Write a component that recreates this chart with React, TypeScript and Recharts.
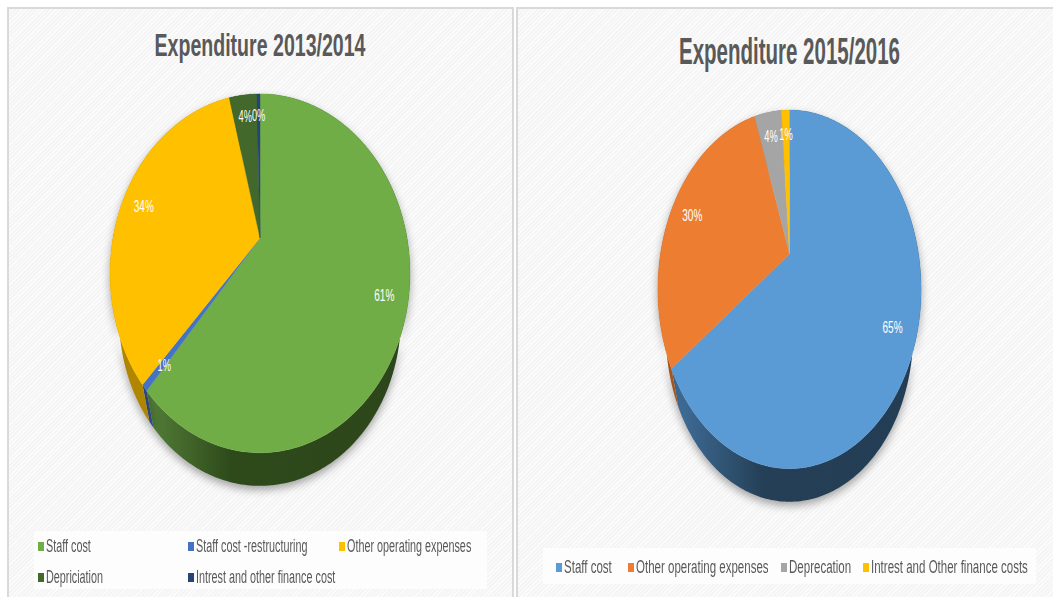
import { PieChart, Pie, Legend } from 'recharts';

const categoriesA = ['Staff cost', 'Staff cost -restructuring', 'Other operating expenses', 'Depriciation', 'Intrest and other finance cost'];
const valuesA = [61.4, 0.6, 34, 3.6, 0.4];
const colorsA = ['#70AD47', '#4472C4', '#FFC000', '#43682B', '#264478'];
const sideColorsA = ['url(#sideGreen)', '#2f4f8a', '#b08600', '#2d451a', '#1a2f54'];

const categoriesB = ['Staff cost', 'Other operating expenses', 'Deprecation', 'Intrest and Other finance costs'];
const valuesB = [65, 29.8, 4, 1.2];
const colorsB = ['#5B9BD5', '#ED7D31', '#A5A5A5', '#FFC000'];
const sideColorsB = ['url(#sideBlue)', '#a5561f', '#737373', '#b08600'];

const tableA = categoriesA.map((name, i) => ({ name, value: valuesA[i], fill: colorsA[i] }));
const sideA = categoriesA.map((name, i) => ({ name, value: valuesA[i], fill: sideColorsA[i] }));
const tableB = categoriesB.map((name, i) => ({ name, value: valuesB[i], fill: colorsB[i] }));
const sideB = categoriesB.map((name, i) => ({ name, value: valuesB[i], fill: sideColorsB[i] }));

// the source pie is tilted in perspective, so the apex is not the middle of the ellipse
const TILT = 0.197;
const SHRINK = 0.94;
const DROP = 46;
const RAD = Math.PI / 180;

const project = (p: any, ratio: number, angle: number, r = 1) => {
  const ux = Math.cos(angle * RAD) * r;
  const uy = -Math.sin(angle * RAD) * r;
  const w = 1 - TILT * uy;
  return [p.cx + (p.outerRadius * ux) / w, p.cy + (p.outerRadius * ratio * uy) / w];
};

const rim = (p: any, ratio: number) => {
  const pts: number[][] = [];
  const n = Math.max(2, Math.ceil(Math.abs(p.endAngle - p.startAngle)));
  for (let i = 0; i <= n; i++) {
    pts.push(project(p, ratio, p.startAngle + ((p.endAngle - p.startAngle) * i) / n));
  }
  return pts;
};

const toPath = (pts: number[][]) => 'M' + pts.map((q) => q[0].toFixed(2) + ',' + q[1].toFixed(2)).join('L') + 'Z';

const topShape = (ratio: number) => (p: any) => (
  <path d={toPath([[p.cx, p.cy], ...rim(p, ratio)])} fill={p.fill} stroke={p.fill} strokeWidth={0.4} />
);

const sideShape = (ratio: number) => (p: any) => {
  const upper = rim(p, ratio);
  const lower = upper
    .map((q) => [p.cx + (q[0] - p.cx) * SHRINK, p.cy + (q[1] - p.cy) * SHRINK + DROP])
    .reverse();
  return (
    <path
      d={toPath([...upper, ...lower])}
      fill={p.fill}
      style={{ filter: 'drop-shadow(0 4px 4px rgba(0,0,0,0.35))' }}
    />
  );
};

const percentLabel = (ratio: number, reach: number) => (p: any) => {
  const [x, y] = project(p, ratio, p.midAngle, reach);
  const text = Math.round(p.percent * 100) + '%';
  return (
    <text
      x={x}
      y={y + 3}
      fill="#fff"
      textAnchor="middle"
      dominantBaseline="central"
      fontFamily="Liberation Sans"
      fontSize={16}
      textLength={text.length * 6.7}
      lengthAdjust="spacingAndGlyphs"
    >
      {text}
    </text>
  );
};

const LegendBox = ({ payload, columns, rowHeight, squeeze, box }: any) => {
  const items = (payload || []).filter((item: any) => item.type !== 'none');
  return (
    <div style={{ ...box, position: 'relative', background: '#fdfdfd', fontFamily: 'Liberation Sans', fontSize: 18, color: '#595959' }}>
      {items.slice(0, columns.length).map((item: any, i: number) => {
        const col = columns[i];
        return (
          <div key={item.value} style={{ position: 'absolute', left: col[0], top: col[1], height: rowHeight, whiteSpace: 'nowrap', lineHeight: rowHeight + 'px' }}>
            <span style={{ position: 'absolute', left: 0, top: (rowHeight - 9) / 2, width: 6, height: 9, background: item.color }} />
            <span style={{ position: 'absolute', left: 8, top: 0, display: 'inline-block', transform: `scaleX(${squeeze})`, transformOrigin: 'left center' }}>{item.value}</span>
          </div>
        );
      })}
    </div>
  );
};

const panelStyle = {
  position: 'absolute' as const,
  top: 7,
  height: 590,
  boxSizing: 'border-box' as const,
  borderTop: '2px solid #d9d9d9',
  borderLeft: '2px solid #d9d9d9',
  background: 'repeating-linear-gradient(135deg, #fcfcfc 0 1px, #f5f5f5 1px 3px)',
};

const titleStyle = { fontFamily: 'Liberation Sans', fontWeight: 700, fill: '#595959' };

export default function App() {
  return (
    <div style={{ position: 'absolute', left: 0, top: 0, width: 1053, height: 597, overflow: 'hidden', background: '#fff' }}>
      <div style={{ ...panelStyle, left: 7, width: 507, borderRight: '2px solid #d9d9d9' }} />
      <div style={{ ...panelStyle, left: 516, width: 537 }} />

      <div style={{ position: 'absolute', left: 0, top: 0 }}>
        <PieChart width={515} height={597} margin={{ top: 0, right: 0, bottom: 0, left: 0 }}>
          <defs>
            <linearGradient id="sideGreen" x1="0" y1="0" x2="1" y2="0">
              <stop offset="0%" stopColor="#547f38" />
              <stop offset="32%" stopColor="#2e4a1b" />
              <stop offset="100%" stopColor="#2d451a" />
            </linearGradient>
          </defs>
          <text x={260} y={56} textAnchor="middle" fontSize={31} textLength={211} lengthAdjust="spacingAndGlyphs" style={titleStyle}>
            Expenditure 2013/2014
          </text>
          <Pie data={sideA} dataKey="value" nameKey="name" cx={260} cy={238} outerRadius={147} startAngle={90} endAngle={-270} legendType="none" shape={sideShape(1.173)} isAnimationActive={false} />
          <Pie data={tableA} dataKey="value" nameKey="name" cx={260} cy={238} outerRadius={147} startAngle={90} endAngle={-270} shape={topShape(1.173)} label={percentLabel(1.173, 0.85)} labelLine={false} isAnimationActive={false} />
          <Legend
            itemSorter={null}
            wrapperStyle={{ position: 'absolute', left: 34, top: 531, width: 453, height: 58 }}
            content={(props: any) => (
              <LegendBox
                {...props}
                box={{ width: 453, height: 58 }}
                rowHeight={24}
                squeeze={0.6}
                columns={[[4, 3], [154, 3], [305, 3], [4, 34], [154, 34]]}
              />
            )}
          />
        </PieChart>
      </div>

      <div style={{ position: 'absolute', left: 515, top: 0 }}>
        <PieChart width={538} height={597} margin={{ top: 0, right: 0, bottom: 0, left: 0 }}>
          <defs>
            <linearGradient id="sideBlue" x1="0" y1="0" x2="1" y2="0">
              <stop offset="0%" stopColor="#41709c" />
              <stop offset="37%" stopColor="#243f56" />
              <stop offset="100%" stopColor="#233d54" />
            </linearGradient>
          </defs>
          <text x={274.5} y={64} textAnchor="middle" fontSize={36} textLength={221} lengthAdjust="spacingAndGlyphs" style={titleStyle}>
            Expenditure 2015/2016
          </text>
          <Pie data={sideB} dataKey="value" nameKey="name" cx={274.5} cy={254} outerRadius={129} startAngle={90} endAngle={-270} legendType="none" shape={sideShape(1.336)} isAnimationActive={false} />
          <Pie data={tableB} dataKey="value" nameKey="name" cx={274.5} cy={254} outerRadius={129} startAngle={90} endAngle={-270} shape={topShape(1.336)} label={percentLabel(1.336, 0.83)} labelLine={false} isAnimationActive={false} />
          <Legend
            itemSorter={null}
            wrapperStyle={{ position: 'absolute', left: 28, top: 548, width: 493, height: 36 }}
            content={(props: any) => (
              <LegendBox
                {...props}
                box={{ width: 493, height: 36 }}
                rowHeight={24}
                squeeze={0.64}
                columns={[[13, 7], [85, 7], [238, 7], [320, 7]]}
              />
            )}
          />
        </PieChart>
      </div>
    </div>
  );
}
